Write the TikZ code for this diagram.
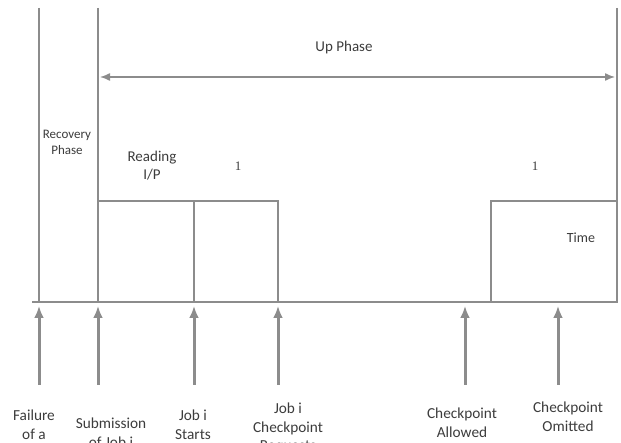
\documentclass[tikz,border=0pt]{standalone}
\usepackage{fontspec}
\setmainfont{Carlito}
\newfontfamily\numfont{Liberation Serif}
\usepackage{tikz}
\usetikzlibrary{arrows.meta}
\usetikzlibrary{positioning}
\definecolor{linegray}{HTML}{8C8C8C}
\definecolor{textgray}{HTML}{3C3C3C}
\tikzset{>=latex}
\tikzstyle{phaseline} = [draw=linegray, line width=1.4pt]
\tikzstyle{axis} = [draw=linegray, line width=2.6pt]
\tikzstyle{event} = [draw=linegray, line width=3pt, -{Latex[length=12pt,width=10pt]}]
\tikzstyle{lbl} = [draw=none, text=textgray, align=center, inner sep=0, font=\fontsize{15}{18}\selectfont]
\tikzstyle{evlbl} = [lbl, anchor=north, font=\fontsize{15.3}{18.5}\selectfont]

\begin{document}
\begin{tikzpicture}[x=1pt, y=-1pt]
\useasboundingbox (0,0) rectangle (621,443);
% phase borders
\coordinate (fail top) at (39,8);
\coordinate (fail bot) at (39,302);
\coordinate (sub top) at (98,8);
\coordinate (sub bot) at (98,302);
\coordinate (end top) at (617,8);
\coordinate (end bot) at (617,302);
\draw [phaseline] (fail top) -- (fail bot);
\draw [phaseline] (sub top) -- (sub bot);
\draw [phaseline] (end top) -- (end bot);
% up phase
\coordinate (upL) at (100,77);
\coordinate (upR) at (615,77);
\draw [phaseline, {Latex[length=10pt,width=8pt]}-{Latex[length=10pt,width=8pt]}] (upL) -- (upR);
\node [lbl] (up) at (344,48) {Up Phase};
\node [lbl, font=\fontsize{13}{16}\selectfont] (rec) at (67,142) {Recovery\\Phase};
% job blocks
\coordinate (r0) at (98,201);
\coordinate (r1) at (194,201);
\coordinate (r2) at (278,201);
\coordinate (r1b) at (194,302);
\coordinate (r2b) at (278,302);
\draw [phaseline] (r0) -- (r2) -- (r2b);
\draw [phaseline] (r1) -- (r1b);
\coordinate (c0) at (491,302);
\coordinate (c1) at (491,201);
\coordinate (c2) at (617,201);
\draw [phaseline] (c0) -- (c1) -- (c2);
\node [lbl] (read) at (152,166) {Reading\\I/P};
\node [lbl, font=\numfont\fontsize{13}{15}\selectfont] (one a) at (238,166) {1};
\node [lbl, font=\numfont\fontsize{13}{15}\selectfont] (one b) at (535,166) {1};
\node [lbl, font=\fontsize{14}{16}\selectfont] (time) at (581,238) {Time};
% time axis
\coordinate (ax0) at (32,302);
\coordinate (ax1) at (618,302);
\draw [axis] (ax0) -- (ax1);
% events
\foreach \name/\xx in {fail/39, sub/98, start/194, req/278, allow/465, omit/558} {
  \coordinate (\name tail) at (\xx,385);
  \coordinate (\name tip) at (\xx,306);
  \draw [event] (\name tail) -- (\name tip);
}
\node [evlbl] (fail) at (34,410) {Failure\\of a};
\node [evlbl] (sub) at (111,418) {Submission\\of Job i};
\node [evlbl] (start) at (193,410) {Job i\\Starts};
\node [evlbl] (req) at (288,403) {Job i\\Checkpoint\\Requests};
\node [evlbl] (allow) at (462,408) {Checkpoint\\Allowed};
\node [evlbl] (omit) at (568,402) {Checkpoint\\Omitted};
\end{tikzpicture}
\end{document}
